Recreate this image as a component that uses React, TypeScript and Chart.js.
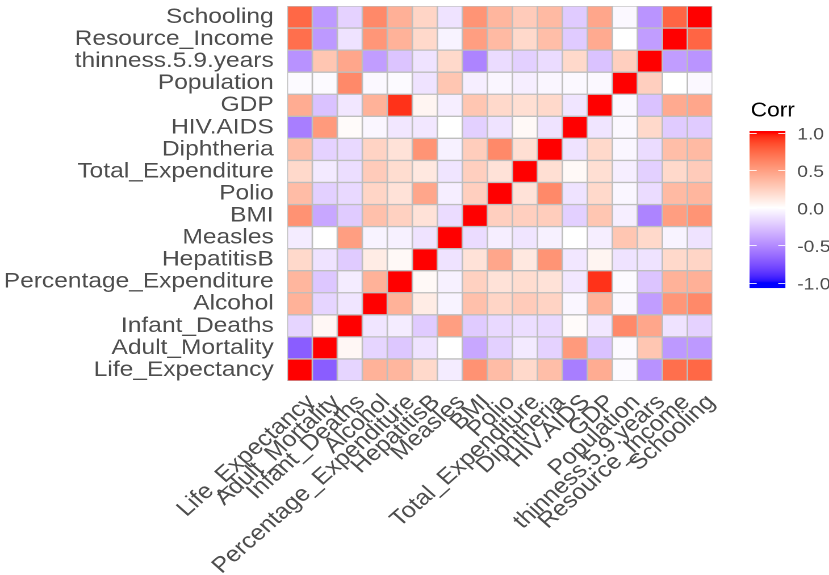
import React, { useEffect, useRef } from 'react';
import { Chart, registerables } from 'chart.js';

Chart.register(...registerables);

// Variable order: first entry sits at the bottom of the y axis and at the left of the x axis.
const variables = [
  'Life_Expectancy',
  'Adult_Mortality',
  'Infant_Deaths',
  'Alcohol',
  'Percentage_Expenditure',
  'HepatitisB',
  'Measles',
  'BMI',
  'Polio',
  'Total_Expenditure',
  'Diphtheria',
  'HIV.AIDS',
  'GDP',
  'Population',
  'thinness.5.9.years',
  'Resource_Income',
  'Schooling',
];

// Correlation of each variable with every variable, in the order above.
const lifeExpectancy = [1, -0.7, -0.18, 0.4, 0.38, 0.2, -0.08, 0.56, 0.35, 0.2, 0.34, -0.56, 0.43, -0.02, -0.47, 0.72, 0.75];
const adultMortality = [-0.7, 1, 0.04, -0.18, -0.24, -0.12, 0.0, -0.38, -0.2, -0.09, -0.19, 0.52, -0.26, -0.02, 0.3, -0.44, -0.44];
const infantDeaths = [-0.18, 0.04, 1, -0.11, -0.08, -0.22, 0.5, -0.22, -0.16, -0.14, -0.16, 0.02, -0.1, 0.6, 0.46, -0.12, -0.19];
const alcohol = [0.4, -0.18, -0.11, 1, 0.4, 0.1, -0.05, 0.33, 0.22, 0.27, 0.23, -0.04, 0.4, -0.03, -0.42, 0.54, 0.6];
const percentageExpenditure = [0.38, -0.24, -0.08, 0.4, 1, 0.03, -0.06, 0.24, 0.15, 0.18, 0.15, -0.1, 0.93, -0.02, -0.25, 0.4, 0.41];
const hepatitisB = [0.2, -0.12, -0.22, 0.1, 0.03, 1, -0.12, 0.15, 0.46, 0.12, 0.55, -0.1, 0.05, -0.12, -0.12, 0.2, 0.22];
const measles = [-0.08, 0.0, 0.5, -0.05, -0.06, -0.12, 1, -0.15, -0.07, -0.11, -0.06, 0.0, -0.07, 0.3, 0.2, -0.05, -0.12];
const bmi = [0.56, -0.38, -0.22, 0.33, 0.24, 0.15, -0.15, 1, 0.25, 0.25, 0.26, -0.2, 0.3, -0.07, -0.53, 0.5, 0.55];
const polio = [0.35, -0.2, -0.16, 0.22, 0.15, 0.46, -0.07, 0.25, 1, 0.15, 0.6, -0.12, 0.2, -0.04, -0.15, 0.36, 0.38];
const totalExpenditure = [0.2, -0.09, -0.14, 0.27, 0.18, 0.12, -0.11, 0.25, 0.15, 1, 0.17, 0.03, 0.17, -0.07, -0.2, 0.2, 0.27];
const diphtheria = [0.34, -0.19, -0.16, 0.23, 0.15, 0.55, -0.06, 0.26, 0.6, 0.17, 1, -0.12, 0.2, -0.04, -0.15, 0.34, 0.36];
const hivAids = [-0.56, 0.52, 0.02, -0.04, -0.1, -0.1, 0.0, -0.2, -0.12, 0.03, -0.12, 1, -0.11, -0.03, 0.2, -0.22, -0.22];
const gdp = [0.43, -0.26, -0.1, 0.4, 0.93, 0.05, -0.07, 0.3, 0.2, 0.17, 0.2, -0.11, 1, -0.03, -0.26, 0.44, 0.46];
const population = [-0.02, -0.02, 0.6, -0.03, -0.02, -0.12, 0.3, -0.07, -0.04, -0.07, -0.04, -0.03, -0.03, 1, 0.25, 0.0, -0.03];
const thinness = [-0.47, 0.3, 0.46, -0.42, -0.25, -0.12, 0.2, -0.53, -0.15, -0.2, -0.15, 0.2, -0.26, 0.25, 1, -0.42, -0.46];
const resourceIncome = [0.72, -0.44, -0.12, 0.54, 0.4, 0.2, -0.05, 0.5, 0.36, 0.2, 0.34, -0.22, 0.44, 0.0, -0.42, 1, 0.76];
const schooling = [0.75, -0.44, -0.19, 0.6, 0.41, 0.22, -0.12, 0.55, 0.38, 0.27, 0.36, -0.22, 0.46, -0.03, -0.46, 0.76, 1];

const corrRows = [
  lifeExpectancy, adultMortality, infantDeaths, alcohol, percentageExpenditure,
  hepatitisB, measles, bmi, polio, totalExpenditure, diphtheria, hivAids,
  gdp, population, thinness, resourceIncome, schooling,
];

const legendTitle = 'Corr';
const legendBreaks = [1, 0.5, 0, -0.5, -1];
const legendLabels = ['1.0', '0.5', '0.0', '-0.5', '-1.0'];

// Drawing surface is laid out narrower and widened on screen.
const CHART_W = 730;
const CHART_H = 575;
const PAGE_W = 829;
const PAGE_H = 575;

const FONT = "'Liberation Sans', Arial, Helvetica, sans-serif";
const TEXT_GREY = '#4d4d4d';

// blue - white - red diverging scale interpolated in CIELAB
const LAB_WHITE = [100, 0, 0];
const LAB_RED = [53.2408, 80.0925, 67.2032];
const LAB_BLUE = [32.297, 79.1875, -107.8602];

function labToRgb(L: number, a: number, b: number): string {
  const fy = (L + 16) / 116;
  const fx = fy + a / 500;
  const fz = fy - b / 200;
  const inv = (t: number) => (t * t * t > 0.008856 ? t * t * t : (t - 16 / 116) / 7.787);
  const X = 0.95047 * inv(fx);
  const Y = 1.0 * inv(fy);
  const Z = 1.08883 * inv(fz);
  const lin = [
    3.2406 * X - 1.5372 * Y - 0.4986 * Z,
    -0.9689 * X + 1.8758 * Y + 0.0415 * Z,
    0.0557 * X - 0.204 * Y + 1.057 * Z,
  ];
  const out = lin.map((c) => {
    const g = c <= 0.0031308 ? 12.92 * c : 1.055 * Math.pow(c, 1 / 2.4) - 0.055;
    return Math.round(Math.max(0, Math.min(1, g)) * 255);
  });
  return `rgb(${out[0]},${out[1]},${out[2]})`;
}

function corrColor(v: number): string {
  const t = Math.max(-1, Math.min(1, v));
  const end = t >= 0 ? LAB_RED : LAB_BLUE;
  const k = Math.abs(t);
  return labToRgb(
    LAB_WHITE[0] + (end[0] - LAB_WHITE[0]) * k,
    LAB_WHITE[1] + (end[1] - LAB_WHITE[1]) * k,
    LAB_WHITE[2] + (end[2] - LAB_WHITE[2]) * k,
  );
}

// Colour bar legend on the right of the tiles
const colorBarPlugin = {
  id: 'colorBar',
  afterDraw(chart: any) {
    const ctx = chart.ctx as CanvasRenderingContext2D;
    const left = 660;
    const width = 31.6;
    const top = 131;
    const bottom = 288;
    const yTop = 132.7; // position of +1
    const yBottom = 282.7; // position of -1
    const valueToY = (v: number) => yTop + ((1 - v) / 2) * (yBottom - yTop);
    const yToValue = (y: number) => 1 - ((y - yTop) / (yBottom - yTop)) * 2;

    ctx.save();
    for (let y = top; y < bottom; y += 1) {
      ctx.fillStyle = corrColor(yToValue(y + 0.5));
      ctx.fillRect(left, y, width, 1.05);
    }

    ctx.strokeStyle = 'rgba(255,255,255,0.85)';
    ctx.lineWidth = 1;
    const tickLen = width / 5;
    legendBreaks.forEach((v) => {
      const y = Math.round(valueToY(v)) + 0.5;
      ctx.beginPath();
      ctx.moveTo(left, y);
      ctx.lineTo(left + tickLen, y);
      ctx.moveTo(left + width - tickLen, y);
      ctx.lineTo(left + width, y);
      ctx.stroke();
    });

    ctx.fillStyle = TEXT_GREY;
    ctx.font = `17px ${FONT}`;
    ctx.textAlign = 'left';
    ctx.textBaseline = 'middle';
    legendBreaks.forEach((v, i) => {
      ctx.fillText(legendLabels[i], 702, valueToY(v) + 2);
    });

    ctx.fillStyle = '#000';
    ctx.font = `20px ${FONT}`;
    ctx.fillText(legendTitle, 661, 111);
    ctx.restore();
  },
};

export default function App() {
  const canvasRef = useRef<HTMLCanvasElement | null>(null);

  useEffect(() => {
    const canvas = canvasRef.current;
    if (!canvas) return;
    canvas.width = CHART_W;
    canvas.height = CHART_H;
    canvas.style.width = `${PAGE_W}px`;
    canvas.style.height = `${PAGE_H}px`;

    const datasets = corrRows.map((row, j) => ({
      label: variables[j],
      data: variables.map(() => 1),
      backgroundColor: row.map((v) => corrColor(v)),
      borderColor: '#bebebe',
      borderWidth: 1,
      borderSkipped: false as const,
      barPercentage: 1,
      categoryPercentage: 1,
    }));

    const chart = new Chart(canvas, {
      type: 'bar',
      data: { labels: variables, datasets },
      plugins: [colorBarPlugin],
      options: {
        animation: false,
        responsive: false,
        maintainAspectRatio: false,
        devicePixelRatio: 2,
        layout: { padding: { top: 6, right: 102.7, left: 0, bottom: 0 } },
        plugins: {
          legend: { display: false },
          tooltip: { enabled: false },
          title: { display: false },
        },
        scales: {
          x: {
            type: 'category',
            stacked: true,
            offset: true,
            grid: { display: false, drawTicks: false },
            border: { display: false },
            ticks: {
              autoSkip: false,
              maxRotation: 45,
              minRotation: 45,
              padding: 10,
              labelOffset: 10,
              color: TEXT_GREY,
              font: { family: FONT, size: 22, lineHeight: 1 },
            },
            afterFit: (scale: any) => {
              scale.height = 194;
              scale.paddingLeft = 0;
              scale.paddingRight = 0;
            },
          },
          y: {
            type: 'linear',
            stacked: true,
            min: 0,
            max: variables.length,
            grid: { display: false, drawTicks: false },
            border: { display: false },
            afterBuildTicks: (scale: any) => {
              scale.ticks = variables.map((_, i) => ({ value: i + 0.5 }));
            },
            ticks: {
              autoSkip: false,
              padding: 12,
              color: TEXT_GREY,
              font: { family: FONT, size: 21.6, lineHeight: 1 },
              callback: (value: any) => variables[Math.floor(Number(value))] ?? '',
            },
            afterFit: (scale: any) => {
              scale.width = 253;
              scale.paddingTop = 0;
              scale.paddingBottom = 0;
            },
          },
        },
      },
    });

    return () => {
      chart.destroy();
    };
  }, []);

  return (
    <div style={{ position: 'absolute', left: 0, top: 0, width: PAGE_W, height: PAGE_H, background: '#fff' }}>
      <canvas ref={canvasRef} />
    </div>
  );
}
